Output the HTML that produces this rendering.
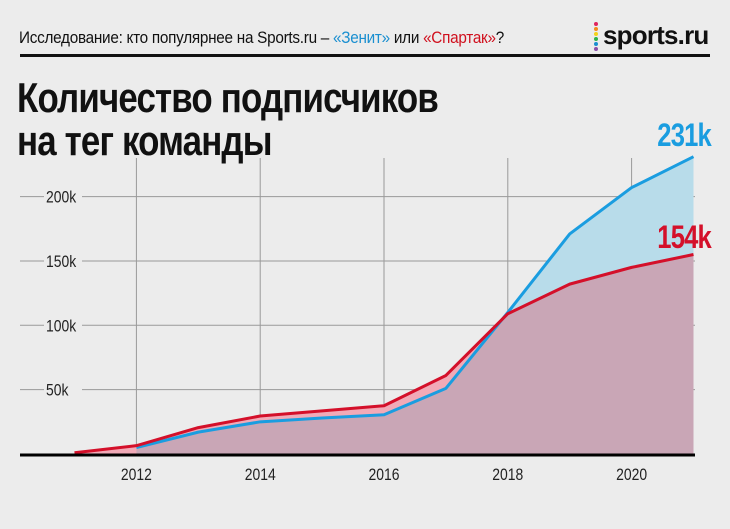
<!DOCTYPE html>
<html><head><meta charset="utf-8"><style>
html,body{margin:0;padding:0;background:#ececec;}
body{width:730px;height:529px;position:relative;overflow:hidden;font-family:"Liberation Sans",sans-serif;}
.t{position:absolute;white-space:nowrap;transform-origin:0 0;}
</style></head><body>
<div class="t" style="left:19px;top:28px;font-size:17px;color:#111;letter-spacing:-0.3px;transform:scaleX(0.9);">Исследование: кто популярнее на Sports.ru – <span style="color:#1a8fd0">«Зенит»</span> или <span style="color:#d0101e">«Спартак»</span>?</div>
<div style="position:absolute;left:594px;top:22px;width:5px;">
<div style="width:4px;height:4px;border-radius:2px;background:#e0245e;margin-bottom:1px"></div>
<div style="width:4px;height:4px;border-radius:2px;background:#f28a1b;margin-bottom:1px"></div>
<div style="width:4px;height:4px;border-radius:2px;background:#f4d21a;margin-bottom:1px"></div>
<div style="width:4px;height:4px;border-radius:2px;background:#2fb34a;margin-bottom:1px"></div>
<div style="width:4px;height:4px;border-radius:2px;background:#1a8fd0;margin-bottom:1px"></div>
<div style="width:4px;height:4px;border-radius:2px;background:#8a4fa8"></div>
</div>
<div class="t" style="left:603px;top:20px;font-weight:bold;font-size:26px;letter-spacing:-0.8px;color:#111;">sports.ru</div>
<div style="position:absolute;left:20px;top:54px;width:690px;height:3px;background:#111"></div>
<div class="t" style="left:17px;top:76px;font-size:42px;font-weight:bold;line-height:43px;color:#111;letter-spacing:-1px;transform:scaleX(0.83);">Количество подписчиков<br>на тег команды</div>

<svg id="chart" width="730" height="529" style="position:absolute;left:0;top:0">
</svg>
<script>
const years=[2011,2012,2013,2014,2015,2016,2017,2018,2019,2020,2021];
const zenit=[null,5,17,25,28,30.5,51,110,171,207,231];
const spartak=[1,6.5,20.5,29.5,33.5,37.5,61,109,132,145,155];
const yTicks=[50,100,150,200];
const xTicks=[2012,2014,2016,2018,2020];
const yTickLabels=["50k","100k","150k","200k"];
const NS="http://www.w3.org/2000/svg";
const svg=document.getElementById('chart');
const X=y=>74.5+(y-2011)*61.9;
const Y=v=>454-v*1.287;
function mk(tag,attrs){const e=document.createElementNS(NS,tag);for(const k in attrs)e.setAttribute(k,attrs[k]);svg.appendChild(e);return e;}
xTicks.forEach(t=>{const l=mk('line',{x1:X(t),x2:X(t),y1:158,y2:454,stroke:'#999','stroke-width':1});

});
yTicks.forEach(t=>{const l=mk('line',{x1:20,x2:695,y1:Y(t),y2:Y(t),stroke:'#999','stroke-width':1});

});
function pts(arr){return years.map((y,i)=>arr[i]==null?null:[X(y),Y(arr[i])]).filter(p=>p);}
function areaFromPts(p,fill,name){const d='M'+p[0][0]+','+Y(0)+p.map(q=>'L'+q[0]+','+q[1]).join('')+'L'+p[p.length-1][0]+','+Y(0)+'Z';
const e=mk('path',{d:d,fill:fill});

}
areaFromPts(pts(zenit),'#b8dcea','zenit-area');
areaFromPts(pts(spartak),'#f1aab7','spartak-area');
const overlap=years.map((y,i)=>zenit[i]==null?null:[X(y),Y(Math.min(zenit[i],spartak[i]))]).filter(p=>p);
areaFromPts(overlap,'#c9a6b6','overlap-area');
yTicks.forEach((t,i)=>{const r=mk('rect',{x:44,y:Y(t)-10,width:38,height:20,fill:'#ececec'});


const tx=mk('text',{transform:'translate(46,'+(Y(t)+6)+') scale(0.82,1)','font-size':17,fill:'#222'});tx.textContent=yTickLabels[i];

});
function line(arr,col,name){const p=pts(arr);const e=mk('polyline',{points:p.map(q=>q.join(',')).join(' '),fill:'none',stroke:col,'stroke-width':3,'stroke-linejoin':'round'});

}
line(zenit,'#1a9de0','zenit-line');
line(spartak,'#d4102a','spartak-line');
const b=mk('line',{x1:20,x2:695,y1:455,y2:455,stroke:'#000','stroke-width':3});


xTicks.forEach(t=>{const tx=mk('text',{transform:'translate('+X(t)+',480) scale(0.82,1)','font-size':17,fill:'#222','text-anchor':'middle'});tx.textContent=t;

});
const l1=mk('text',{transform:'translate(711,146) scale(0.8,1)','font-size':32,'font-weight':'bold',fill:'#1a9de0','text-anchor':'end','letter-spacing':'-1'});l1.textContent=zenit[zenit.length-1]+'k';


const l2=mk('text',{transform:'translate(711,248) scale(0.8,1)','font-size':32,'font-weight':'bold',fill:'#d4102a','text-anchor':'end','letter-spacing':'-1'});l2.textContent='154k';


</script>
</body></html>
